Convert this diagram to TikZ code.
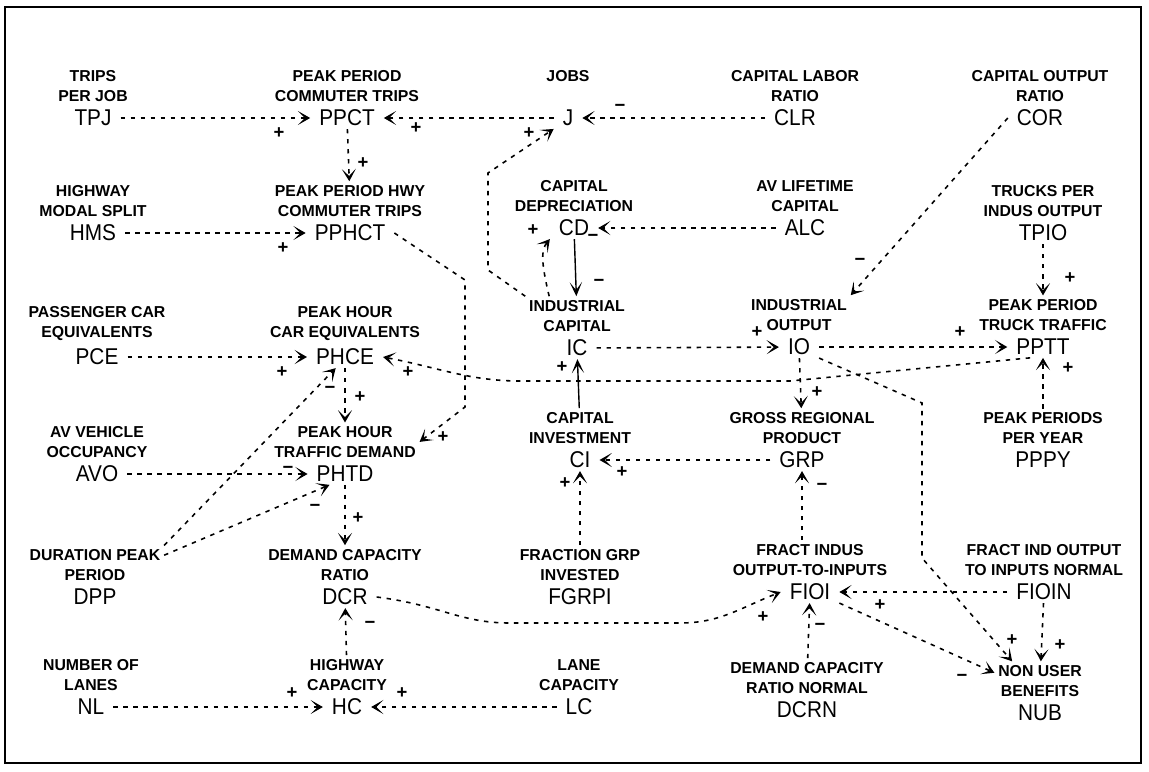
\documentclass[tikz,border=0pt]{standalone}
\usepackage{fontspec}
\setmainfont{Liberation Sans}
\newfontfamily\abbrfont[FakeStretch=0.91]{Liberation Sans}
\usetikzlibrary{arrows.meta,positioning}

\begin{document}
\begin{tikzpicture}[
  x=0.02cm, y=-0.02cm,
  var/.style={font=\abbrfont\fontsize{13}{13}\selectfont, inner xsep=5pt, inner ysep=1.5pt},
  lbl/.style={font=\fontsize{9}{11.4}\selectfont\bfseries, align=center, inner sep=2pt},
  sgn/.style={font=\fontsize{10.5}{10.5}\selectfont\bfseries, inner sep=0pt},
  link/.style={-{Stealth[length=7pt,width=8pt,inset=4pt]}, line width=0.9pt,
    dash pattern=on 2.5pt off 3.2pt},
  flow/.style={-{Stealth[length=8pt,width=7pt,inset=4.5pt]}, line width=0.8pt}
]
\useasboundingbox (0,0) rectangle (1149,771);
\draw[line width=1pt] (5,7) rectangle (1141,763);

% Row 1
\node[var] (TPJ) at (93,118) {TPJ};
\node[lbl, above=1pt of TPJ] (TPJl) {TRIPS\\PER JOB};
\node[var] (PPCT) at (347,118) {PPCT};
\node[lbl, above=1pt of PPCT] (PPCTl) {PEAK PERIOD\\COMMUTER TRIPS};
\node[var] (J) at (568,118) {J};
\node[lbl, above=1pt of J] (Jl) {JOBS\\\mbox{}};
\node[var] (CLR) at (795,118) {CLR};
\node[lbl, above=1pt of CLR] (CLRl) {CAPITAL LABOR\\RATIO};
\node[var] (COR) at (1040,118) {COR};
\node[lbl, above=1pt of COR] (CORl) {CAPITAL OUTPUT\\RATIO};

% Row 2
\node[var] (HMS) at (93,233) {HMS};
\node[lbl, above=1pt of HMS] (HMSl) {HIGHWAY\\MODAL SPLIT};
\node[var] (PPHCT) at (350,233) {PPHCT};
\node[lbl, above=1pt of PPHCT] (PPHCTl) {PEAK PERIOD HWY\\COMMUTER TRIPS};
\node[var] (CD) at (574,228) {CD};
\node[lbl, above=1pt of CD] (CDl) {CAPITAL\\DEPRECIATION};
\node[var] (ALC) at (805,228) {ALC};
\node[lbl, above=1pt of ALC] (ALCl) {AV LIFETIME\\CAPITAL};
\node[var] (TPIO) at (1043,233) {TPIO};
\node[lbl, above=1pt of TPIO] (TPIOl) {TRUCKS PER\\INDUS OUTPUT};

% Row 3
\node[var] (PCE) at (97,357) {PCE};
\node[lbl, above=1pt of PCE] (PCEl) {PASSENGER CAR\\EQUIVALENTS};
\node[var] (PHCE) at (345,357) {PHCE};
\node[lbl, above=1pt of PHCE] (PHCEl) {PEAK HOUR\\CAR EQUIVALENTS};
\node[var] (IC) at (577,348) {IC};
\node[lbl, above=1pt of IC] (ICl) {INDUSTRIAL\\CAPITAL};
\node[var] (IO) at (799,347) {IO};
\node[lbl, above=1pt of IO] (IOl) {INDUSTRIAL\\OUTPUT};
\node[var] (PPTT) at (1043,347) {PPTT};
\node[lbl, above=1pt of PPTT] (PPTTl) {PEAK PERIOD\\TRUCK TRAFFIC};

% Row 4
\node[var] (AVO) at (97,474) {AVO};
\node[lbl, above=1pt of AVO] (AVOl) {AV VEHICLE\\OCCUPANCY};
\node[var] (PHTD) at (345,474) {PHTD};
\node[lbl, above=1pt of PHTD] (PHTDl) {PEAK HOUR\\TRAFFIC DEMAND};
\node[var] (CI) at (580,460) {CI};
\node[lbl, above=1pt of CI] (CIl) {CAPITAL\\INVESTMENT};
\node[var] (GRP) at (802,460) {GRP};
\node[lbl, above=1pt of GRP] (GRPl) {GROSS REGIONAL\\PRODUCT};
\node[var] (PPPY) at (1043,460) {PPPY};
\node[lbl, above=1pt of PPPY] (PPPYl) {PEAK PERIODS\\PER YEAR};

% Row 5
\node[var] (DPP) at (95,597) {DPP};
\node[lbl, above=1pt of DPP] (DPPl) {DURATION PEAK\\PERIOD};
\node[var] (DCR) at (345,597) {DCR};
\node[lbl, above=1pt of DCR] (DCRl) {DEMAND CAPACITY\\RATIO};
\node[var] (FGRPI) at (580,597) {FGRPI};
\node[lbl, above=1pt of FGRPI] (FGRPIl) {FRACTION GRP\\INVESTED};
\node[var] (FIOI) at (810,592) {FIOI};
\node[lbl, above=1pt of FIOI] (FIOIl) {FRACT INDUS\\OUTPUT-TO-INPUTS};
\node[var] (FIOIN) at (1044,592) {FIOIN};
\node[lbl, above=1pt of FIOIN] (FIOINl) {FRACT IND OUTPUT\\TO INPUTS NORMAL};

% Row 6
\node[var] (NL) at (91,707) {NL};
\node[lbl, above=1pt of NL] (NLl) {NUMBER OF\\LANES};
\node[var] (HC) at (347,707) {HC};
\node[lbl, above=1pt of HC] (HCl) {HIGHWAY\\CAPACITY};
\node[var] (LC) at (579,707) {LC};
\node[lbl, above=1pt of LC] (LCl) {LANE\\CAPACITY};
\node[var] (DCRN) at (807,710) {DCRN};
\node[lbl, above=1pt of DCRN] (DCRNl) {DEMAND CAPACITY\\RATIO NORMAL};
\node[var] (NUB) at (1040,713) {NUB};
\node[lbl, above=1pt of NUB] (NUBl) {NON USER\\BENEFITS};

% Links
\draw[link] (TPJ) -- (PPCT);
\draw[link] (J) -- (PPCT);
\draw[link] (CLR) -- (J);
\draw[link] (ICl.north west) -- (488,270) -- (488,173) -- (J.south west);
\draw[link] (PPCT) -- (PPHCTl);
\draw[link] (HMS) -- (PPHCT);
\draw[link] (ALC) -- (CD);
\draw[flow] (CD) -- (ICl);
\draw[link] (ICl.145) .. controls (541,262) and (541,250) .. (CD.south west);
\draw[link] (IC) -- (IO);
\draw[link] (COR.west) -- (IOl.north east);
\draw[link] (TPIO) -- (PPTTl);
\draw[link] (IO) -- (PPTT);
\draw[link] (PPPYl) -- (PPTT);
\draw[link] (PPTT.220) -- (790,381) -- (520,381)
  .. controls (470,381) and (440,368) .. (PHCE.east);
\draw[link] (PCE) -- (PHCE);
\draw[link] (DPPl.north east) -- (PHCE.230);
\draw[link] (DPPl.8) -- (PHTD.215);
\draw[link] (AVO) -- (PHTD);
\draw[link] (PHCE) -- (PHTDl);
\draw[link] (PPHCT.east) -- (465,280) -- (465,407) -- (PHTDl.east);
\draw[link] (PHTD) -- (DCRl);
\draw[link] (HCl) -- (DCR);
\draw[link] (NL) -- (HC);
\draw[link] (LC) -- (HC);
\draw[link] (DCR.east) .. controls (440,605) and (460,623) .. (510,623) -- (680,623)
  .. controls (720,623) and (740,608) .. (FIOI.west);
\draw[link] (FGRPIl) -- (CI);
\draw[link] (GRP) -- (CI);
\draw[flow] (CIl) -- (IC);
\draw[link] (IO) -- (GRPl);
\draw[link] (FIOIl.north -| GRP) -- (GRP);
\draw[link] (IO.south east) -- (922,403) -- (922,558) -- (NUBl.145);
\draw[link] (FIOIN) -- (FIOI);
\draw[link] (FIOI.south east) -- (NUBl.170);
\draw[link] (FIOIN) -- (NUBl);
\draw[link] (DCRNl) -- (FIOI);

% Polarities
\node[sgn] (s1) at (279,133) {+};
\node[sgn] (s2) at (416,128) {+};
\node[sgn] (s3) at (620,108) {−};
\node[sgn] (s4) at (529,133) {+};
\node[sgn] (s5) at (363,163) {+};
\node[sgn] (s6) at (283,248) {+};
\node[sgn] (s7) at (593,238) {−};
\node[sgn] (s8) at (533,230) {+};
\node[sgn] (s9) at (599,283) {−};
\node[sgn] (s10) at (757,332) {+};
\node[sgn] (s11) at (860,262) {−};
\node[sgn] (s12) at (1070,278) {+};
\node[sgn] (s13) at (960,332) {+};
\node[sgn] (s14) at (1068,368) {+};
\node[sgn] (s15) at (408,372) {+};
\node[sgn] (s16) at (282,372) {+};
\node[sgn] (s17) at (330,390) {−};
\node[sgn] (s18) at (360,397) {+};
\node[sgn] (s19) at (443,437) {+};
\node[sgn] (s20) at (288,470) {−};
\node[sgn] (s21) at (315,508) {−};
\node[sgn] (s22) at (358,518) {+};
\node[sgn] (s23) at (370,625) {−};
\node[sgn] (s24) at (292,693) {+};
\node[sgn] (s25) at (402,693) {+};
\node[sgn] (s26) at (763,617) {+};
\node[sgn] (s27) at (565,483) {+};
\node[sgn] (s28) at (622,472) {+};
\node[sgn] (s29) at (562,367) {+};
\node[sgn] (s30) at (817,392) {+};
\node[sgn] (s31) at (822,487) {−};
\node[sgn] (s32) at (1012,640) {+};
\node[sgn] (s33) at (880,605) {+};
\node[sgn] (s34) at (962,678) {−};
\node[sgn] (s35) at (1060,645) {+};
\node[sgn] (s36) at (820,627) {−};

\end{tikzpicture}
\end{document}
